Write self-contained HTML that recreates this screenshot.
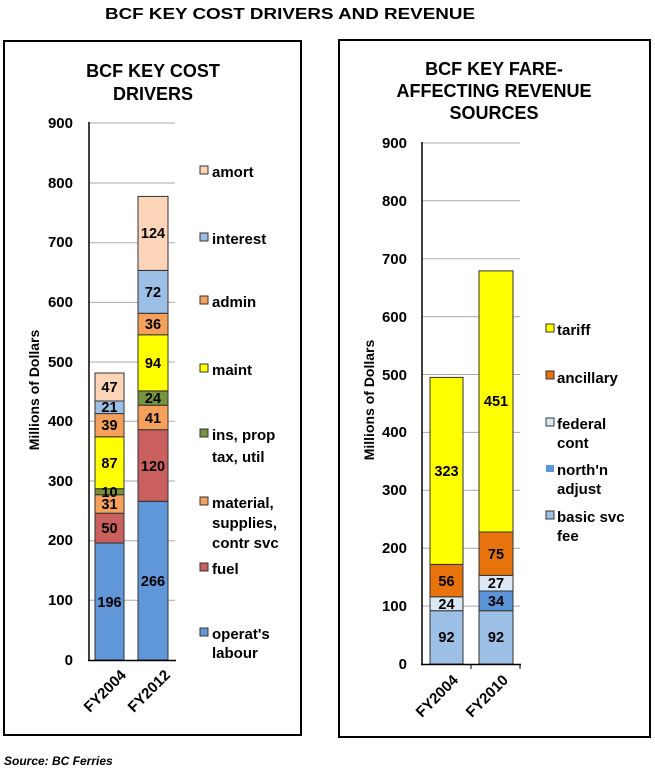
<!DOCTYPE html>
<html><head><meta charset="utf-8"><style>
body{margin:0;background:#fff;}
svg{display:block;font-family:"Liberation Sans",Arial,sans-serif;font-weight:bold;}
</style></head><body>
<svg width="655" height="768" viewBox="0 0 655 768">
<text x="290" y="19" font-size="16" text-anchor="middle" textLength="370" lengthAdjust="spacingAndGlyphs">BCF KEY COST DRIVERS AND REVENUE</text>
<rect x="4" y="41" width="297" height="694" fill="none" stroke="#000" stroke-width="2"/>
<rect x="339" y="40" width="311" height="697" fill="none" stroke="#000" stroke-width="2"/>
<text x="153" y="77" font-size="18" text-anchor="middle">BCF KEY COST</text>
<text x="153" y="100" font-size="18" text-anchor="middle">DRIVERS</text>
<text x="494" y="75" font-size="18" text-anchor="middle">BCF KEY FARE-</text>
<text x="494" y="97" font-size="18" text-anchor="middle">AFFECTING REVENUE</text>
<text x="494" y="119" font-size="18" text-anchor="middle">SOURCES</text>
<!-- left chart -->
<g stroke="#aaa" stroke-width="1">
<line x1="89" x2="175" y1="123" y2="123"/><line x1="89" x2="175" y1="183" y2="183"/><line x1="89" x2="175" y1="242.7" y2="242.7"/><line x1="89" x2="175" y1="302.4" y2="302.4"/><line x1="89" x2="175" y1="362" y2="362"/><line x1="89" x2="175" y1="421.3" y2="421.3"/><line x1="89" x2="175" y1="481" y2="481"/><line x1="89" x2="175" y1="540.7" y2="540.7"/><line x1="89" x2="175" y1="600.3" y2="600.3"/>
</g>
<g font-size="15" text-anchor="end">
<text x="73" y="665">0</text><text x="73" y="605">100</text><text x="73" y="545">200</text><text x="73" y="486">300</text><text x="73" y="426">400</text><text x="73" y="367">500</text><text x="73" y="307">600</text><text x="73" y="247">700</text><text x="73" y="188">800</text><text x="73" y="128">900</text>
</g>
<g stroke="#333" stroke-width="1">
<rect x="95" y="543" width="29" height="117" fill="#5f97d9"/>
<rect x="95" y="513.2" width="29" height="29.8" fill="#c9605d"/>
<rect x="95" y="494.7" width="29" height="18.5" fill="#f5a15c"/>
<rect x="95" y="488.7" width="29" height="6" fill="#77933c"/>
<rect x="95" y="436.8" width="29" height="51.9" fill="#ffff00"/>
<rect x="95" y="413.6" width="29" height="23.2" fill="#f5a15c"/>
<rect x="95" y="401" width="29" height="12.6" fill="#9cbfe6"/>
<rect x="95" y="373" width="29" height="28" fill="#fcd5b9"/>
<rect x="138" y="501.3" width="30" height="158.7" fill="#5f97d9"/>
<rect x="138" y="429.7" width="30" height="71.6" fill="#c9605d"/>
<rect x="138" y="405.2" width="30" height="24.5" fill="#f5a15c"/>
<rect x="138" y="390.9" width="30" height="14.3" fill="#77933c"/>
<rect x="138" y="334.8" width="30" height="56.1" fill="#ffff00"/>
<rect x="138" y="313.3" width="30" height="21.5" fill="#f5a15c"/>
<rect x="138" y="270.4" width="30" height="42.9" fill="#9cbfe6"/>
<rect x="138" y="196.4" width="30" height="74" fill="#fcd5b9"/>
</g>
<line x1="89" y1="122" x2="89" y2="661" stroke="#000" stroke-width="1.5"/>
<line x1="88" y1="660.5" x2="176" y2="660.5" stroke="#000" stroke-width="1.5"/>
<g font-size="14.5" text-anchor="middle">
<text x="109.5" y="607">196</text><text x="109.5" y="533">50</text><text x="109.5" y="509">31</text><text x="109.5" y="497">10</text><text x="109.5" y="468">87</text><text x="109.5" y="430">39</text><text x="109.5" y="412">21</text><text x="109.5" y="392">47</text>
<text x="153" y="586">266</text><text x="153" y="471">120</text><text x="153" y="423">41</text><text x="153" y="403">24</text><text x="153" y="368">94</text><text x="153" y="329">36</text><text x="153" y="297">72</text><text x="153" y="238">124</text>
</g>
<text transform="translate(39,390) rotate(-90)" font-size="14" text-anchor="middle">Millions of Dollars</text>
<text transform="translate(127,676) rotate(-45)" font-size="15" text-anchor="end">FY2004</text>
<text transform="translate(171,676) rotate(-45)" font-size="15" text-anchor="end">FY2012</text>
<g stroke="#333" stroke-width="1">
<rect x="200" y="166" width="8" height="8" fill="#fcd5b9"/>
<rect x="200" y="233" width="8" height="8" fill="#9cbfe6"/>
<rect x="200" y="296" width="8" height="8" fill="#f5a15c"/>
<rect x="200" y="364" width="8" height="8" fill="#ffff00"/>
<rect x="200" y="429" width="8" height="8" fill="#77933c"/>
<rect x="200" y="497" width="8" height="8" fill="#f5a15c"/>
<rect x="200" y="563" width="8" height="8" fill="#c9605d"/>
<rect x="200" y="628" width="8" height="8" fill="#5f97d9"/>
</g>
<g font-size="15">
<text x="212" y="177">amort</text><text x="212" y="244">interest</text><text x="212" y="307">admin</text><text x="212" y="375">maint</text>
<text x="212" y="440">ins, prop</text><text x="212" y="462">tax, util</text>
<text x="212" y="508">material,</text><text x="212" y="528">supplies,</text><text x="212" y="548">contr svc</text>
<text x="212" y="574">fuel</text><text x="212" y="639">operat's</text><text x="212" y="658">labour</text>
</g>
<!-- right chart -->
<g stroke="#aaa" stroke-width="1">
<line x1="422" x2="520" y1="143" y2="143"/><line x1="422" x2="520" y1="200.8" y2="200.8"/><line x1="422" x2="520" y1="258.7" y2="258.7"/><line x1="422" x2="520" y1="316.6" y2="316.6"/><line x1="422" x2="520" y1="374.5" y2="374.5"/><line x1="422" x2="520" y1="432.4" y2="432.4"/><line x1="422" x2="520" y1="490.3" y2="490.3"/><line x1="422" x2="520" y1="548.2" y2="548.2"/><line x1="422" x2="520" y1="606.1" y2="606.1"/>
</g>
<g font-size="15" text-anchor="end">
<text x="407" y="669">0</text><text x="407" y="611">100</text><text x="407" y="553">200</text><text x="407" y="495">300</text><text x="407" y="437">400</text><text x="407" y="380">500</text><text x="407" y="322">600</text><text x="407" y="264">700</text><text x="407" y="206">800</text><text x="407" y="148">900</text>
</g>
<g stroke="#333" stroke-width="1">
<rect x="430" y="610.7" width="33" height="53.3" fill="#9dc0e6"/>
<rect x="430" y="596.8" width="33" height="13.9" fill="#dce7f4"/>
<rect x="430" y="564.4" width="33" height="32.4" fill="#e8720c"/>
<rect x="430" y="377.4" width="33" height="187" fill="#ffff00"/>
<rect x="479" y="610.7" width="34" height="53.3" fill="#9dc0e6"/>
<rect x="479" y="591" width="34" height="19.7" fill="#5b95d8"/>
<rect x="479" y="575.4" width="34" height="15.6" fill="#dce7f4"/>
<rect x="479" y="532" width="34" height="43.4" fill="#e8720c"/>
<rect x="479" y="270.9" width="34" height="261.1" fill="#ffff00"/>
</g>
<line x1="422" y1="142" x2="422" y2="665" stroke="#000" stroke-width="1.5"/>
<line x1="421" y1="664.5" x2="521" y2="664.5" stroke="#000" stroke-width="1.5"/>
<line x1="471" y1="664" x2="471" y2="669" stroke="#000"/><line x1="520" y1="664" x2="520" y2="669" stroke="#000"/>
<g font-size="14.5" text-anchor="middle">
<text x="446.5" y="642">92</text><text x="446.5" y="609">24</text><text x="446.5" y="586">56</text><text x="446.5" y="476">323</text>
<text x="496" y="642">92</text><text x="496" y="606">34</text><text x="496" y="588">27</text><text x="496" y="559">75</text><text x="496" y="406">451</text>
</g>
<text transform="translate(374,400) rotate(-90)" font-size="14" text-anchor="middle">Millions of Dollars</text>
<text transform="translate(459,681) rotate(-45)" font-size="15" text-anchor="end">FY2004</text>
<text transform="translate(509,681) rotate(-45)" font-size="15" text-anchor="end">FY2010</text>
<g stroke="#333" stroke-width="1">
<rect x="546" y="324" width="8" height="8" fill="#ffff00"/>
<rect x="546" y="371" width="8" height="8" fill="#e8720c"/>
<rect x="546" y="418" width="8" height="8" fill="#dce7f4"/>
<rect x="546" y="465" width="8" height="7" fill="#5b95d8" stroke="none"/>
<rect x="546" y="511" width="8" height="8" fill="#9dc0e6"/>
</g>
<g font-size="15">
<text x="557" y="335">tariff</text><text x="557" y="383">ancillary</text>
<text x="557" y="429">federal</text><text x="557" y="448">cont</text>
<text x="557" y="475">north'n</text><text x="557" y="494">adjust</text>
<text x="557" y="522">basic svc</text><text x="557" y="541">fee</text>
</g>
<text x="4" y="765" font-size="12" font-style="italic">Source: BC Ferries</text>
</svg>
</body></html>
